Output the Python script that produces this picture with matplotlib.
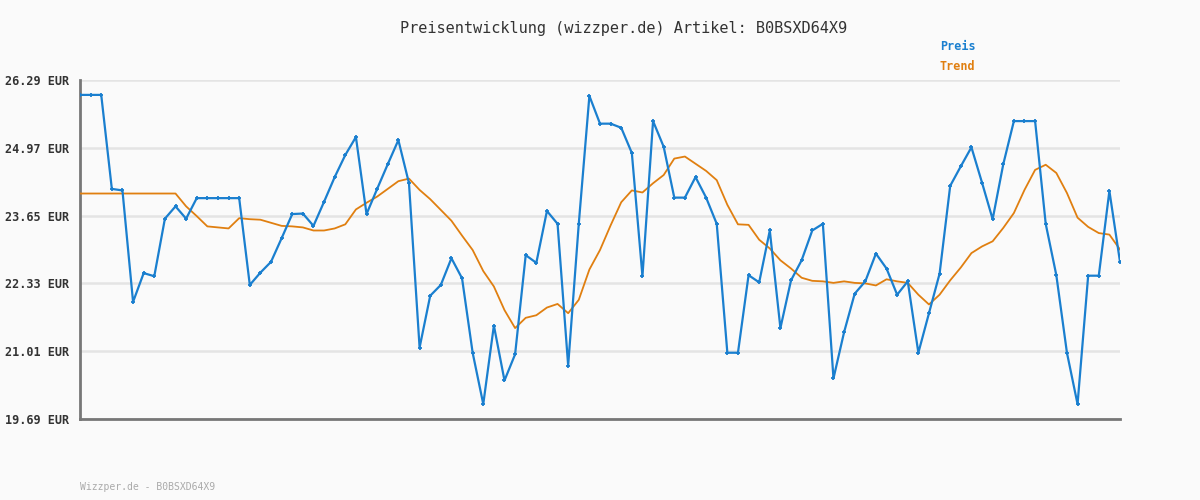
import matplotlib
matplotlib.use("Agg")
import matplotlib.pyplot as plt

# price readings (EUR), one per day
preis = [26.00, 26.00, 26.00, 24.17, 24.14, 21.97, 22.53, 22.47, 23.59, 23.83,
         23.59, 23.99, 23.99, 23.99, 23.99, 23.99, 22.30, 22.54, 22.75, 23.21,
         23.68, 23.69, 23.45, 23.92, 24.40, 24.83, 25.18, 23.68, 24.17, 24.65,
         25.12, 24.28, 21.08, 22.09, 22.30, 22.82, 22.43, 20.98, 19.98, 21.51,
         20.44, 20.95, 22.88, 22.73, 23.74, 23.49, 20.73, 23.49, 25.98, 25.44,
         25.44, 25.36, 24.87, 22.47, 25.49, 24.99, 24.00, 24.00, 24.40, 24.00,
         23.49, 20.98, 20.98, 22.49, 22.35, 23.36, 21.46, 22.39, 22.78, 23.36,
         23.49, 20.48, 21.38, 22.13, 22.37, 22.91, 22.62, 22.11, 22.37, 20.98,
         21.75, 22.52, 24.23, 24.61, 24.98, 24.29, 23.58, 24.65, 25.49, 25.49,
         25.49, 23.49, 22.49, 20.98, 19.98, 22.48, 22.48, 24.13, 22.75]

trend = [24.08, 24.08, 24.08, 24.08, 24.08, 24.08, 24.08, 24.08, 24.08, 24.08,
         23.83, 23.64, 23.44, 23.42, 23.40, 23.60, 23.58, 23.57, 23.51, 23.45,
         23.44, 23.42, 23.36, 23.36, 23.40, 23.48, 23.77, 23.90, 24.02, 24.17,
         24.32, 24.37, 24.15, 23.97, 23.76, 23.55, 23.26, 22.98, 22.57, 22.27,
         21.81, 21.46, 21.66, 21.71, 21.86, 21.93, 21.75, 22.01, 22.60, 22.98,
         23.46, 23.91, 24.14, 24.10, 24.28, 24.44, 24.76, 24.80, 24.66, 24.52,
         24.34, 23.86, 23.48, 23.47, 23.18, 23.01, 22.78, 22.62, 22.44, 22.38,
         22.37, 22.34, 22.37, 22.34, 22.33, 22.29, 22.41, 22.37, 22.34, 22.11,
         21.92, 22.11, 22.39, 22.64, 22.92, 23.05, 23.15, 23.41, 23.70, 24.15,
         24.54, 24.64, 24.48, 24.09, 23.61, 23.43, 23.31, 23.28, 22.99]

yticks = [19.69, 21.01, 22.33, 23.65, 24.97, 26.29]
artikel = "B0BSXD64X9"

blue = "#1a7fcf"
orange = "#e07f10"
mono = "DejaVu Sans Mono"

fig = plt.figure(figsize=(12, 5), dpi=100, facecolor="#fafafa")
ax = fig.add_axes([80 / 1200, 1 - 419 / 500, 1040 / 1200, 339 / 500])
ax.set_facecolor("#fafafa")

x = list(range(len(preis)))
ax.plot(x, trend, color=orange, lw=1.3, zorder=3)
ax.plot(x, preis, color=blue, lw=1.6, marker="+", ms=3, mew=1.3, zorder=4)

ax.set_xlim(0, len(preis) - 1)
ax.set_ylim(yticks[0], yticks[-1])
ax.set_yticks(yticks)
ax.set_yticklabels([f"{v:.2f} EUR" for v in yticks], fontfamily=mono,
                   fontweight="bold", fontsize=8.5, color="#333333")
ax.set_xticks([])
ax.tick_params(axis="y", length=0, pad=8)
ax.grid(axis="y", color="#e4e4e4", lw=1.8, zorder=0)

for s in ["top", "right"]:
    ax.spines[s].set_visible(False)
for s in ["left", "bottom"]:
    ax.spines[s].set_color("#777777")
    ax.spines[s].set_linewidth(2)

fig.text(624 / 1200, 1 - 28 / 500, f"Preisentwicklung (wizzper.de) Artikel: {artikel}",
         ha="center", va="center", fontfamily=mono, fontsize=11, color="#333333")
fig.text(940 / 1200, 1 - 46 / 500, "Preis", ha="left", va="center",
         fontfamily=mono, fontweight="bold", fontsize=8.5, color=blue)
fig.text(940 / 1200, 1 - 67 / 500, "Trend", ha="left", va="center",
         fontfamily=mono, fontweight="bold", fontsize=8.5, color=orange)
fig.text(80 / 1200, 1 - 487 / 500, f"Wizzper.de - {artikel}", ha="left", va="center",
         fontfamily=mono, fontsize=7, color="#aaaaaa")

fig.savefig("out.png", dpi=100, facecolor=fig.get_facecolor())
